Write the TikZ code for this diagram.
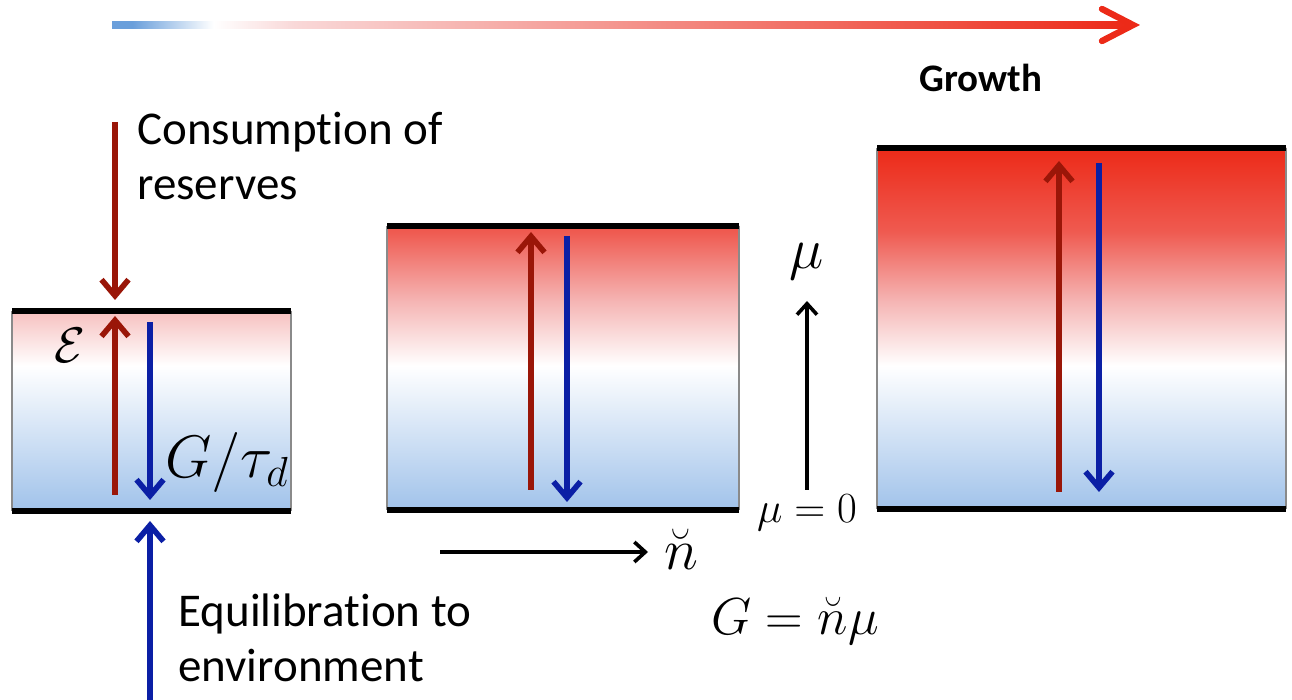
\RequirePackage{fix-cm}
\documentclass[tikz,border=0pt]{standalone}
\usepackage[no-math]{fontspec}
\setmainfont[Ligatures=NoCommon]{Carlito}
\usetikzlibrary{arrows.meta}
\definecolor{reserveC}{HTML}{9A1608}
\definecolor{equilC}{HTML}{0B1FA5}
\definecolor{hotC}{HTML}{EC2A18}
\definecolor{warmC}{HTML}{EF5A50}
\definecolor{pinkC}{HTML}{F5B4B3}
\definecolor{paleC}{HTML}{F9D8D8}
\definecolor{coldC}{HTML}{A0C2EA}
\definecolor{growBlue}{HTML}{6A9FDB}
\definecolor{edgeC}{HTML}{8A8A8A}
\pgfdeclareverticalshading{fieldshade}{100bp}{color(0bp)=(coldC); color(25bp)=(coldC); color(45bp)=(white); color(54bp)=(pinkC); color(63.5bp)=(warmC); color(75bp)=(hotC); color(100bp)=(hotC)}
\pgfdeclarehorizontalshading{growshade}{100bp}{color(0bp)=(growBlue); color(26bp)=(growBlue); color(30bp)=(white); color(34bp)=(paleC); color(75bp)=(hotC); color(100bp)=(hotC)}
\def\lwFlux{2.6pt}
\def\lwAxis{1.6pt}
\def\lwLid{2.6pt}

\begin{document}
\begin{tikzpicture}[x=0.5pt, y=-0.5pt,
  reserve/.style={reserveC, line width=\lwFlux, -{Straight Barb[length=8pt, width=13.5pt, line width=2.8pt]}},
  equil/.style={equilC, line width=\lwFlux, -{Straight Barb[length=8pt, width=13.5pt, line width=2.8pt]}},
  axisarrow/.style={black, line width=\lwAxis, -{Straight Barb[length=5.5pt, width=10pt, line width=1.8pt]}},
  lid/.style={black, line width=\lwLid},
  wall/.style={edgeC, line width=0.6pt},
  caption/.style={font=\fontsize{23.5}{27.5}\selectfont, align=left, inner sep=0pt},
  sym/.style={inner sep=0pt}]

  \useasboundingbox (0,0) rectangle (1292,700);

  % Growth arrow
  \coordinate (growL) at (112,25);
  \coordinate (growR) at (1133,25);
  \shade[shading=growshade] (112,21.5) rectangle (1127,28.5);
  \draw[hotC, line width=3.2pt, line cap=round]
    (1102,9) -- (growR) -- (1102,41);
  \node[font=\fontsize{19.5}{22}\selectfont\bfseries] (growth) at (981,78) {Growth};

  % Boxes, one colour scale for all three
  \foreach \xl/\yt/\xr/\yb in {12/311/291/511, 387/226/739/510, 877/148/1286/509} {
    \begin{scope}
      \clip (\xl,\yt) rectangle (\xr,\yb);
      \shade[shading=fieldshade] (\xl,148) rectangle (\xr,511);
    \end{scope}
    \draw[wall] (\xl,\yt) -- (\xl,\yb) (\xr,\yt) -- (\xr,\yb);
    \draw[lid] (\xl,\yt) -- (\xr,\yt) (\xl,\yb) -- (\xr,\yb);
  }

  % Left box: reserves in, equilibration out
  \coordinate (resIn)  at (115,122);
  \coordinate (resTip) at (115,300);
  \coordinate (eqIn)   at (150,700);
  \coordinate (eqTip)  at (150,521);
  \draw[reserve] (resIn) -- (resTip);
  \draw[equil]   (eqIn) -- (eqTip);

  \coordinate (aBot) at (115,495);
  \coordinate (aTop) at (115,316);
  \coordinate (bTop) at (150,322);
  \coordinate (bBot) at (150,500);
  \draw[reserve] (aBot) -- (aTop);
  \draw[equil]   (bTop) -- (bBot);

  % Middle box
  \coordinate (cBot) at (531,490);
  \coordinate (cTop) at (531,232);
  \coordinate (dTop) at (567,236);
  \coordinate (dBot) at (567,502);
  \draw[reserve] (cBot) -- (cTop);
  \draw[equil]   (dTop) -- (dBot);

  % Right box
  \coordinate (eBot) at (1059,492);
  \coordinate (eTop) at (1059,161);
  \coordinate (fTop) at (1099,163);
  \coordinate (fBot) at (1099,492);
  \draw[reserve] (eBot) -- (eTop);
  \draw[equil]   (fTop) -- (fBot);

  % Axes
  \coordinate (muBot) at (807,490);
  \coordinate (muTip) at (807,301);
  \draw[axisarrow] (muBot) -- (muTip);
  \coordinate (nL)   at (440,552);
  \coordinate (nTip) at (648,552);
  \draw[axisarrow] (nL) -- (nTip);

  % Labels
  \node[caption, anchor=west] (consume) at (137,156) {Consumption of\\reserves};
  \node[caption, anchor=west] (equilib) at (178,638) {Equilibration to\\environment};
  \node[sym, font=\fontsize{25}{27}\selectfont] (calE) at (70,345) {$\mathcal{E}$};
  \node[sym, font=\fontsize{30}{32}\selectfont] (gtau) at (227,463) {$G/\tau_d$};
  \node[sym, font=\fontsize{29}{31}\selectfont] (mu) at (807,262) {$\mu$};
  \node[sym, font=\fontsize{21.5}{24}\selectfont] (muzero) at (807,513) {$\mu=0$};
  \node[sym, font=\fontsize{29}{31}\selectfont] (nbreve) at (681,549) {$\breve{n}$};
  \node[sym, font=\fontsize{26}{28}\selectfont] (gdef) at (795,621) {$G=\breve{n}\mu$};
\end{tikzpicture}
\end{document}
